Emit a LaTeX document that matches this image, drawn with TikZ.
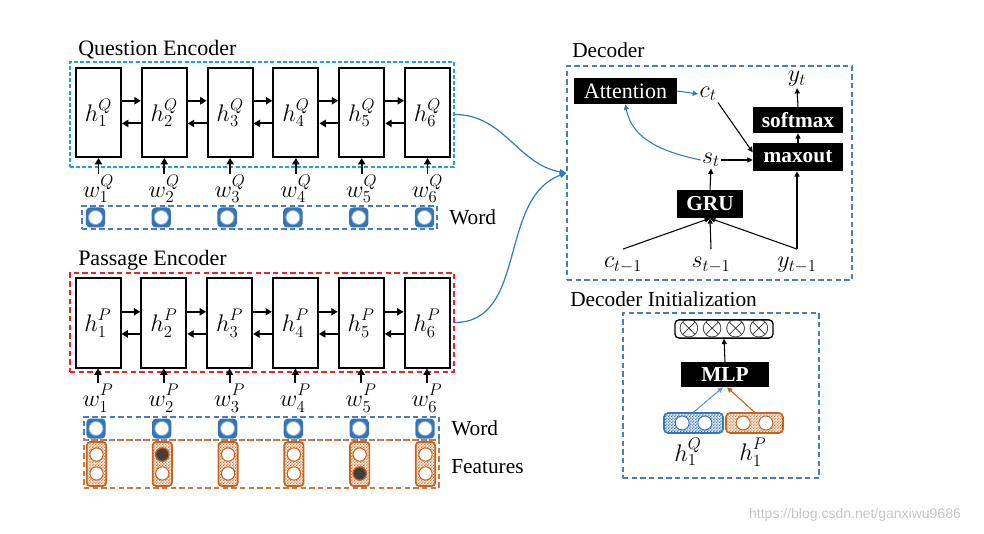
\RequirePackage{fix-cm}
\documentclass[tikz,border=0pt]{standalone}
\usepackage{fontspec}
\setmainfont{Liberation Serif}
\newfontfamily\wmfont{Liberation Sans}
\usetikzlibrary{arrows.meta,patterns,calc}
\pgfdeclarepatternformonly{finecheck}{\pgfpointorigin}{\pgfqpoint{2.4pt}{2.4pt}}{\pgfqpoint{2.4pt}{2.4pt}}{%
  \pgfpathrectangle{\pgfpointorigin}{\pgfqpoint{1.25pt}{1.25pt}}%
  \pgfpathrectangle{\pgfqpoint{1.2pt}{1.2pt}}{\pgfqpoint{1.25pt}{1.25pt}}%
  \pgfusepath{fill}}
\newcommand{\mysupP}{\raisebox{2pt}{$\scriptstyle P$}}
\newcommand{\mysupQ}{\raisebox{1pt}{$\scriptstyle Q$}}
\definecolor{qcyan}{HTML}{21A0E0}
\definecolor{pred}{HTML}{E8262A}
\definecolor{dblue}{HTML}{4A7EBB}
\definecolor{wblue}{HTML}{3574B7}
\definecolor{forange}{HTML}{C8621E}
\definecolor{abl}{HTML}{2E7BC4}
\definecolor{dkgray}{HTML}{404040}
\begin{document}
\begin{tikzpicture}[x=0.75pt,y=-0.75pt,
  lbl/.style={inner sep=0pt, font=\fontsize{16}{19}\selectfont},
  cell/.style={draw, line width=1.5pt, minimum width=33.75pt, minimum height=66.75pt, inner sep=0pt, font=\fontsize{18}{21}\selectfont},
  wlab/.style={inner sep=0.5pt, font=\fontsize{18}{21}\selectfont},
  mlab/.style={inner sep=1pt, font=\fontsize{18}{21}\selectfont},
  arr/.style={-{Triangle[length=4.8pt,width=5.4pt]}, line width=1.4pt},
  darr/.style={-{Triangle[length=4pt,width=3.8pt]}, line width=0.8pt},
  barr/.style={-{Triangle[length=4pt,width=3.8pt]}, line width=0.8pt, draw=abl},
  cur/.style={-{Triangle[length=5pt,width=4.2pt]}, line width=0.9pt, draw=abl},
  qbox/.style={draw=qcyan, dash pattern=on 3pt off 1.6pt, line width=0.9pt, minimum width=288pt, inner sep=0pt},
  pbox/.style={draw=pred, dash pattern=on 4pt off 2.5pt, line width=0.9pt, minimum width=288pt, inner sep=0pt},
  bbox/.style={draw=dblue, dash pattern=on 4pt off 2.5pt, line width=0.9pt, inner sep=0pt},
  obox/.style={draw=forange!85, dash pattern=on 4pt off 2.5pt, line width=0.9pt, inner sep=0pt},
  wicon/.style={fill=wblue, rounded corners=3pt, minimum width=14.5pt, minimum height=15pt, inner sep=0pt},
  wring/.style={circle, fill=white, draw=wblue!60, line width=0.6pt, minimum size=10.5pt, inner sep=0pt},
  ficon/.style={draw=forange, line width=1.3pt, rounded corners=2.5pt, minimum width=14.5pt, minimum height=33pt, inner sep=0pt, preaction={fill=white}, pattern=finecheck, pattern color=forange!85},
  fring/.style={circle, fill=white, draw=forange, line width=0.8pt, minimum size=10pt, inner sep=0pt},
  fdark/.style={circle, fill=dkgray, draw=forange, line width=0.8pt, minimum size=10pt, inner sep=0pt},
  dbox/.style={fill=black, text=white, inner sep=0pt, font=\fontsize{16.5}{18}\selectfont},
  dboxb/.style={dbox, font=\fontsize{16}{18}\selectfont\bfseries},
]
\useasboundingbox (0,0) rectangle (984,534);

% ---------------- Question encoder ----------------
\node[qbox, minimum height=78.75pt] (qenc) at (262,114.5) {};
\node[lbl, anchor=base west, font=\fontsize{16.5}{19}\selectfont] (qlab) at (78,56) {Question Encoder};
\node[bbox, minimum width=266.25pt, minimum height=17.25pt] (qword) at (259.5,217.5) {};
\node[lbl, anchor=base west] (qwordlab) at (449,225) {Word};
\foreach \i in {1,...,6} {
  \pgfmathsetmacro\cx{98.5+65.8*(\i-1)}
  \node[cell] (q\i) at (\cx,112.5) {$h^{\mysupQ}_{\i}$};
  \node[wlab, anchor=north] (wq\i) at (\cx,174) {$w^{\mysupQ}_{\i}$};
  \draw[arr] (wq\i.north) -- (q\i.south);
  \node[wicon] (iq\i) at (\cx-3,217.5) {};
  \node[wring] (rq\i) at (iq\i.center) {};
}
\foreach \i/\j in {1/2,2/3,3/4,4/5,5/6} {
  \draw[arr] ([yshift=8.8pt]q\i.east) -- ([yshift=8.8pt]q\j.west);
  \draw[arr] ([yshift=-8.2pt]q\j.west) -- ([yshift=-8.2pt]q\i.east);
}

% ---------------- Passage encoder ----------------
\node[pbox, minimum height=74.25pt] (penc) at (262,322.5) {};
\node[lbl, anchor=base west, font=\fontsize{16.5}{19}\selectfont] (plab) at (78,266) {Passage Encoder};
\node[bbox, minimum width=266.25pt, minimum height=17.25pt] (pword) at (261.5,428.5) {};
\node[obox, minimum width=266.25pt, minimum height=36pt] (pfeat) at (261.5,464) {};
\node[lbl, anchor=base west] (pwordlab) at (451,435) {Word};
\node[lbl, anchor=base west] (pfeatlab) at (451,473) {Features};
\foreach \i in {1,...,6} {
  \pgfmathsetmacro\cx{98+65.8*(\i-1)}
  \node[cell] (p\i) at (\cx,323) {$h^{\mysupP}_{\i}$};
  \node[wlab, anchor=north] (wp\i) at (\cx,383) {$w^{\mysupP}_{\i}$};
  \draw[arr] (wp\i.north) -- (p\i.south);
  \node[wicon] (ip\i) at (\cx-2,428.5) {};
  \node[wring] (rp\i) at (ip\i.center) {};
  \node[ficon] (fp\i) at (\cx-1.5,464) {};
  \node[fring] (fa\i) at ([yshift=7.1pt]fp\i.center) {};
  \node[fring] (fb\i) at ([yshift=-7.1pt]fp\i.center) {};
}
\node[fdark] (fd2) at (fa2.center) {};
\node[fdark] (fd5) at (fb5.center) {};
\foreach \i/\j in {1/2,2/3,3/4,4/5,5/6} {
  \draw[arr] ([yshift=8.4pt]p\i.east) -- ([yshift=8.4pt]p\j.west);
  \draw[arr] ([yshift=-8.2pt]p\j.west) -- ([yshift=-8.2pt]p\i.east);
}

% ---------------- Decoder ----------------
\node[bbox, minimum width=213.75pt, minimum height=160.5pt] (dec) at (709.5,173) {};
\node[lbl, anchor=base west] (declab) at (572,58) {Decoder};
\node[dbox, minimum width=77.25pt, minimum height=19.5pt] (att) at (625.5,91) {Attention};
\node[mlab] (ct) at (708,94) {$c_t$};
\node[mlab] (yt) at (797,79) {$y_t$};
\node[dboxb, minimum width=67.5pt, minimum height=19.5pt] (soft) at (798,120) {softmax};
\node[dboxb, minimum width=67.5pt, minimum height=21pt] (maxo) at (798,157) {maxout};
\node[mlab] (st) at (711,160) {$s_t$};
\node[dboxb, minimum width=49.5pt, minimum height=21pt] (gru) at (710,204) {GRU};
\node[mlab] (cm1) at (623,265) {$c_{t-1}$};
\node[mlab] (sm1) at (711,265) {$s_{t-1}$};
\node[mlab] (ym1) at (797,265) {$y_{t-1}$};
\draw[barr] (att.east) -- (ct.west);
\draw[barr] (st.west) to[out=168,in=-80] (att.south);
\draw[darr] (soft.north) -- (yt.south);
\draw[darr] (maxo.north) -- (soft.south);
\draw[darr] (gru.north) -- (st.south);
\draw[darr] (st.east) -- (st.east -| maxo.west);
\draw[darr] (ct.south east) -- ([yshift=3.5pt]maxo.west);
\draw[darr] ([yshift=5pt]cm1.north) -- (gru.south);
\draw[darr] ([yshift=5pt]sm1.north) -- (gru.south);
\draw[darr] ([yshift=5pt]ym1.north) -- (gru.south);
\draw[darr] ([yshift=5pt]ym1.north) -- (ym1.north |- maxo.south);

% curves from encoders
\draw[cur] (qenc.east) to[out=0,in=170] (dec.west);
\draw[cur] (penc.east) to[out=0,in=200] (dec.west);

% ---------------- Decoder initialization ----------------
\node[bbox, minimum width=147pt, minimum height=123.75pt] (init) at (721,395.5) {};
\node[lbl, anchor=base west] (initlab) at (570,306) {Decoder Initialization};
\node[draw, line width=1pt, rounded corners=3pt, minimum width=73.5pt, minimum height=13.5pt, inner sep=0pt, font=\fontsize{20.5}{20.5}\selectfont] (outv) at (724,329)
  {$\otimes$\hspace{1.6pt}$\otimes$\hspace{1.6pt}$\otimes$\hspace{1.6pt}$\otimes$};
\node[dboxb, minimum width=66pt, minimum height=18.75pt] (mlp) at (725,374.5) {MLP};
\node[draw=wblue, line width=1.2pt, rounded corners=3pt, minimum width=44.25pt, minimum height=15pt, inner sep=0pt, preaction={fill=white}, pattern=finecheck, pattern color=wblue] (hq) at (693.5,423) {};
\node[draw=forange, line width=1.2pt, rounded corners=3pt, minimum width=42.75pt, minimum height=15pt, inner sep=0pt, preaction={fill=white}, pattern=finecheck, pattern color=forange!85] (hp) at (754.5,423) {};
\node[circle, fill=white, draw=wblue, line width=0.7pt, minimum size=10.5pt, inner sep=0pt] (hqa) at ([xshift=-8.5pt]hq.center) {};
\node[circle, fill=white, draw=wblue, line width=0.7pt, minimum size=10.5pt, inner sep=0pt] (hqb) at ([xshift=8.5pt]hq.center) {};
\node[circle, fill=white, draw=forange, line width=0.7pt, minimum size=10.5pt, inner sep=0pt] (hpa) at ([xshift=-8.5pt]hp.center) {};
\node[circle, fill=white, draw=forange, line width=0.7pt, minimum size=10.5pt, inner sep=0pt] (hpb) at ([xshift=8.5pt]hp.center) {};
\node[mlab] (hq1) at (688,452) {$h^{\mysupQ}_1$};
\node[mlab] (hp1) at (753,452) {$h^{\mysupP}_1$};
\draw[-{Triangle[length=4pt,width=3.8pt]}, line width=0.8pt, draw=abl!75] (hq.north) -- ([xshift=-1.5pt]mlp.south);
\draw[-{Triangle[length=4pt,width=3.8pt]}, line width=0.8pt, draw=forange] (hp.north) -- ([xshift=1.5pt]mlp.south);
\draw[darr] (mlp.north) -- (outv.south);

% watermark
\node[inner sep=0pt, text=gray!45, font=\wmfont\fontsize{10.5}{12}\selectfont] (wm) at (855,515) {https://blog.csdn.net/ganxiwu9686};
\end{tikzpicture}
\end{document}
